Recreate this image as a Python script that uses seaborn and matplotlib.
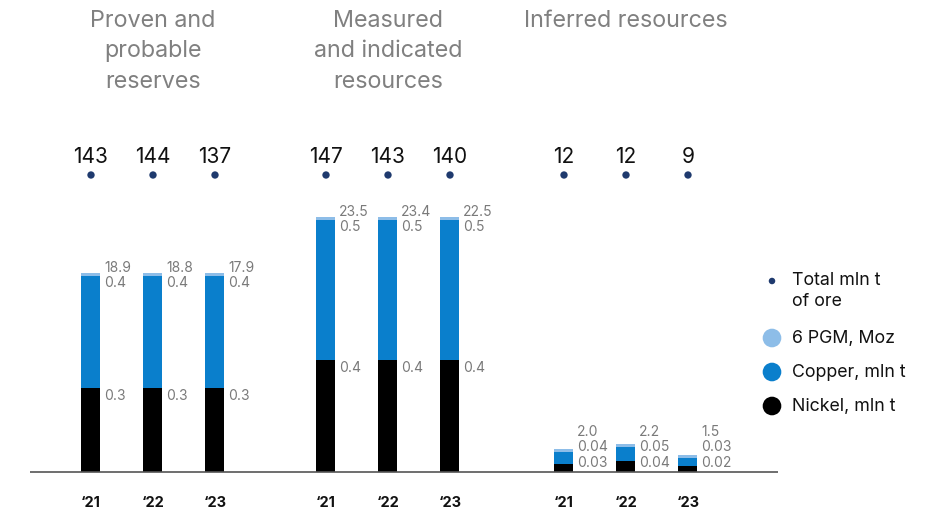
import matplotlib
matplotlib.use("Agg")
import matplotlib.pyplot as plt
import seaborn as sns
import pandas as pd
import numpy as np

# ---- data ----
groups = ["Proven and\nprobable\nreserves", "Measured\nand indicated\nresources", "Inferred resources"]
years = ["\u201821", "\u201822", "\u201823"]
nickel = [0.3, 0.3, 0.3, 0.4, 0.4, 0.4, 0.03, 0.04, 0.02]
copper = [0.4, 0.4, 0.4, 0.5, 0.5, 0.5, 0.04, 0.05, 0.03]
pgm = [18.9, 18.8, 17.9, 23.5, 23.4, 22.5, 2.0, 2.2, 1.5]
total_ore = [143, 144, 137, 147, 143, 140, 12, 12, 9]
nickel_lbl = ["0.3", "0.3", "0.3", "0.4", "0.4", "0.4", "0.03", "0.04", "0.02"]
copper_lbl = ["0.4", "0.4", "0.4", "0.5", "0.5", "0.5", "0.04", "0.05", "0.03"]
pgm_lbl = ["18.9", "18.8", "17.9", "23.5", "23.4", "22.5", "2.0", "2.2", "1.5"]
legend_labels = ["Total mln t\nof ore", "6 PGM, Moz", "Copper, mln t", "Nickel, mln t"]

# ---- layout (pixels) ----
W, H = 941, 511
base_px = 39          # baseline distance from bottom
ppu = 280.0           # pixels per unit (mln t)
xpos = [91, 153, 215, 326, 388, 450, 564, 626, 688]
cap = 3.0 / ppu       # PGM cap thickness

C_NI = "#000000"
C_CU = "#0a7fcc"
C_PGM = "#8dbde8"
C_DOT = "#1f3a6e"
C_LBL = "#7a7a7a"

sns.set_theme(style="white")
plt.rcParams["font.family"] = ["Inter", "DejaVu Sans"]

fig = plt.figure(figsize=(W / 100, H / 100), dpi=100)
ax = fig.add_axes([0, 0, 1, 1])

ni = np.array(nickel)
cu = np.array(copper)
df = pd.DataFrame({
    "x": xpos,
    "ni": ni,
    "nicu": ni + cu,
    "top": ni + cu + cap,
})
width = 19 / 62
sns.barplot(data=df, x="x", y="top", native_scale=True, color=C_PGM, width=width,
            saturation=1, ax=ax, linewidth=0)
sns.barplot(data=df, x="x", y="nicu", native_scale=True, color=C_CU, width=width,
            saturation=1, ax=ax, linewidth=0)
sns.barplot(data=df, x="x", y="ni", native_scale=True, color=C_NI, width=width,
            saturation=1, ax=ax, linewidth=0)

def py(px):
    """pixel height above baseline -> data units"""
    return px / ppu

ax.set_xlim(0, W)
ax.set_ylim(-base_px / ppu, (H - base_px) / ppu)
ax.axis("off")

# baseline
ax.plot([30, 778], [0, 0], color="#555555", lw=1.2, solid_capstyle="butt")

lbl_fs = 10
for i, x in enumerate(xpos):
    ni_px = nickel[i] * ppu
    cu_px = (nickel[i] + copper[i]) * ppu
    top_px = cu_px + 3
    y_ni = max(ni_px - 8, 9)
    y_cu = max(cu_px - 7, y_ni + 16)
    y_pg = max(top_px + 4, y_cu + 15)
    tx = x + 13
    ax.text(tx, py(y_ni), nickel_lbl[i], color=C_LBL, fontsize=lbl_fs, va="center", ha="left")
    ax.text(tx, py(y_cu), copper_lbl[i], color=C_LBL, fontsize=lbl_fs, va="center", ha="left")
    ax.text(tx, py(y_pg), pgm_lbl[i], color=C_LBL, fontsize=lbl_fs, va="center", ha="left")
    # year labels
    ax.text(x, py(-31), years[i % 3], fontsize=10.5, fontweight="bold", color="#111111",
            ha="center", va="center")
    # totals
    ax.text(x, py(472 - 157), str(total_ore[i]), fontsize=15, color="#111111",
            ha="center", va="center")

sns.scatterplot(x=xpos, y=[py(472 - 175)] * len(xpos), color=C_DOT, s=28,
                edgecolor="none", ax=ax, legend=False)

# group titles
centers = [153, 388, 626]
for g, cx in zip(groups, centers):
    ax.text(cx, py(472 - 51) if "\n" in g else py(472 - 21), g, fontsize=16.8, color="#808080",
            ha="center", va="center", linespacing=1.5)

# legend
lx, ltx = 772, 792
ax.scatter([lx], [py(472 - 281)], s=22, color=C_DOT, edgecolor="none")
ax.text(ltx, py(472 - 291), legend_labels[0], fontsize=12.8, color="#111111", va="center",
        ha="left", linespacing=1.3)
for lab, col, yy in zip(legend_labels[1:], [C_PGM, C_CU, C_NI], [338, 372, 406]):
    ax.scatter([lx], [py(472 - yy)], s=180, color=col, edgecolor="none")
    ax.text(ltx, py(472 - yy), lab, fontsize=12.8, color="#111111", va="center", ha="left")

fig.savefig("out.png", dpi=100)
